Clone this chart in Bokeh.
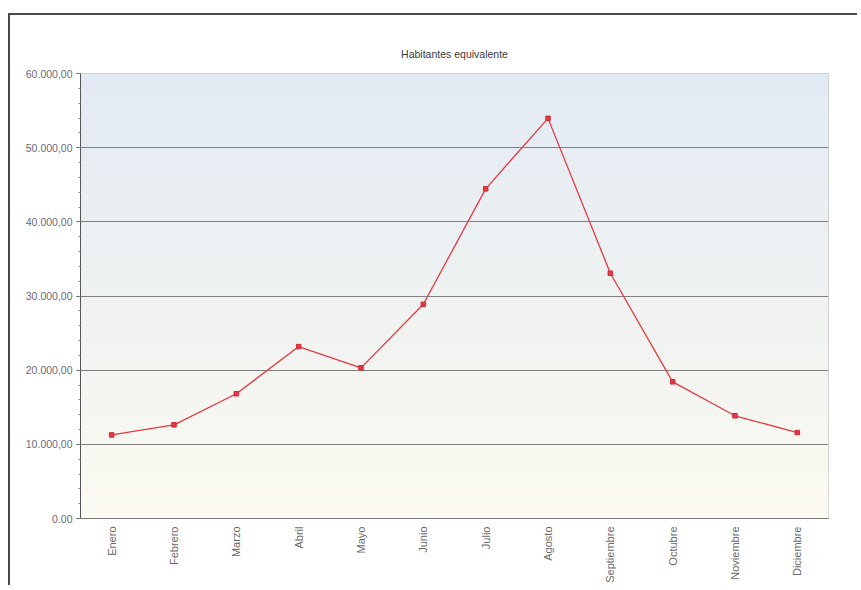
import math
from bokeh.plotting import figure
from bokeh.models import FactorRange, Range1d, FixedTicker, BoxAnnotation, Title
from bokeh.embed import file_html
from bokeh.resources import INLINE

# ---- data ----
months = ["Enero", "Febrero", "Marzo", "Abril", "Mayo", "Junio", "Julio",
          "Agosto", "Septiembre", "Octubre", "Noviembre", "Diciembre"]
habitantes = [11270, 12630, 16820, 23180, 20310, 28880, 44450,
              53950, 33070, 18430, 13850, 11590]
y_ticks = [0, 10000, 20000, 30000, 40000, 50000, 60000]
y_tick_labels = ["0.00", "10.000,00", "20.000,00", "30.000,00",
                 "40.000,00", "50.000,00", "60.000,00"]
title_text = "Habitantes equivalente"

FONT = "Liberation Sans"

p = figure(width=849, height=572, x_range=FactorRange(*months),
           y_range=Range1d(y_ticks[0], y_ticks[-1]),
           output_backend="svg", toolbar_location=None,
           min_border_left=70, min_border_top=58, min_border_right=31,
           min_border_bottom=69, title=None)
p.styles = {"border-left": "2px solid #4a4a4a", "border-top": "2px solid #4a4a4a",
            "margin-left": "8px", "margin-top": "13px"}

t = Title(text=title_text, align="center", text_font=FONT,
          text_font_size="10.5px", text_font_style="normal", text_color="#3a3a3a",
          standoff=27)
p.add_layout(t, "above")

# gradient background (top light blue -> bottom pale cream)
top_c = (226, 234, 243)
bot_c = (252, 250, 240)
n_bands = 40
span = y_ticks[-1] - y_ticks[0]
for i in range(n_bands):
    f = i / (n_bands - 1)
    c = tuple(int(round(bot_c[k] + (top_c[k] - bot_c[k]) * f)) for k in range(3))
    b0 = y_ticks[0] + span * i / n_bands
    b1 = y_ticks[0] + span * (i + 1) / n_bands
    p.add_layout(BoxAnnotation(bottom=b0, top=b1, fill_color="#%02x%02x%02x" % c,
                               fill_alpha=1.0, line_alpha=0, level="image"))

p.background_fill_color = "#f0f2f2"
p.outline_line_color = "#c8c8c8"

p.line(months, habitantes, line_color="#e23a44", line_width=1.3)
p.scatter(months, habitantes, marker="square", size=4.5,
          fill_color="#e23a44", line_color="#d02a35")

# grid
p.xgrid.visible = False
p.ygrid.ticker = FixedTicker(ticks=y_ticks)
p.ygrid.grid_line_color = "#7f7f7f"
p.ygrid.grid_line_width = 1

# y axis
p.yaxis.ticker = FixedTicker(ticks=y_ticks,
                             minor_ticks=list(range(y_ticks[0], y_ticks[-1] + 1, 2000)))
p.yaxis.major_label_overrides = {v: s for v, s in zip(y_ticks, y_tick_labels)}
p.yaxis.major_label_text_font = FONT
p.yaxis.major_label_text_font_size = "10.5px"
p.yaxis.major_label_text_color = "#6a6a7a"
p.yaxis.axis_line_color = "#555555"
p.yaxis.major_tick_line_color = "#555555"
p.yaxis.major_tick_out = 4
p.yaxis.major_tick_in = 0
p.yaxis.minor_tick_out = 2
p.yaxis.minor_tick_in = 0
p.yaxis.minor_tick_line_color = "#888888"
p.yaxis.major_label_standoff = 4

# x axis
p.xaxis.major_label_orientation = math.pi / 2
p.xaxis.major_label_text_font = FONT
p.xaxis.major_label_text_font_size = "11px"
p.xaxis.major_label_text_color = "#6a6a6a"
p.xaxis.axis_line_color = "#777777"
p.xaxis.major_tick_out = 0
p.xaxis.major_tick_in = 0
p.xaxis.major_label_standoff = 8

open("out.html", "w").write(file_html(p, INLINE))
